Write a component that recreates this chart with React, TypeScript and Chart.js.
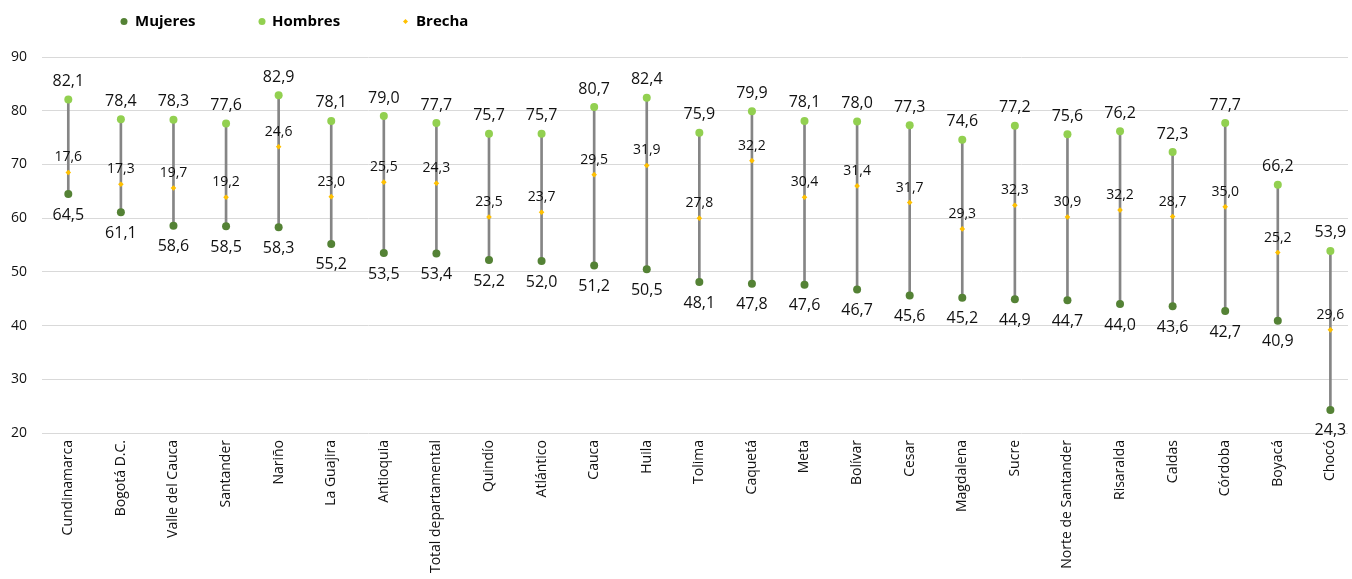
import React, { useEffect, useRef } from 'react';
import { Chart, registerables } from 'chart.js';

Chart.register(...registerables);

const categories = [
  'Cundinamarca', 'Bogotá D.C.', 'Valle del Cauca', 'Santander', 'Nariño', 'La Guajira', 'Antioquia',
  'Total departamental', 'Quindío', 'Atlántico', 'Cauca', 'Huila', 'Tolima', 'Caquetá', 'Meta', 'Bolívar',
  'Cesar', 'Magdalena', 'Sucre', 'Norte de Santander', 'Risaralda', 'Caldas', 'Córdoba', 'Boyacá', 'Chocó',
];

const mujeres = [64.5, 61.1, 58.6, 58.5, 58.3, 55.2, 53.5, 53.4, 52.2, 52.0, 51.2, 50.5, 48.1, 47.8, 47.6, 46.7, 45.6, 45.2, 44.9, 44.7, 44.0, 43.6, 42.7, 40.9, 24.3];
const hombres = [82.1, 78.4, 78.3, 77.6, 82.9, 78.1, 79.0, 77.7, 75.7, 75.7, 80.7, 82.4, 75.9, 79.9, 78.1, 78.0, 77.3, 74.6, 77.2, 75.6, 76.2, 72.3, 77.7, 66.2, 53.9];
const brecha = [17.6, 17.3, 19.7, 19.2, 24.6, 23.0, 25.5, 24.3, 23.5, 23.7, 29.5, 31.9, 27.8, 32.2, 30.4, 31.4, 31.7, 29.3, 32.3, 30.9, 32.2, 28.7, 35.0, 25.2, 29.6];
// vertical position at which each Brecha marker is plotted in the reference
const brechaPos = [68.5, 66.3, 65.6, 63.9, 73.3, 64.0, 66.7, 66.5, 60.2, 61.1, 68.1, 69.8, 60.0, 70.7, 63.9, 66.0, 62.9, 58.0, 62.4, 60.2, 61.5, 60.3, 62.1, 53.6, 39.2];

const yTicks = [20, 30, 40, 50, 60, 70, 80, 90];

const seriesNames = ['Mujeres', 'Hombres', 'Brecha'];
const colMujeres = '#548235';
const colHombres = '#92D050';
const colBrecha = '#FFC000';
const colRange = '#858585';
const FONT = '"Open Sans", "DejaVu Sans", sans-serif';

const fmt = (v: number) => v.toFixed(1).replace('.', ',');

export default function App() {
  const ref = useRef<HTMLCanvasElement>(null);

  useEffect(() => {
    if (!ref.current) return;

    const labelPlugin = {
      id: 'valueLabels',
      afterDatasetsDraw(chart: any) {
        const ctx = chart.ctx;
        ctx.save();
        ctx.textAlign = 'center';
        ctx.textBaseline = 'middle';
        ctx.fillStyle = '#111';
        const specs = [
          { ds: 1, values: mujeres, dy: 21, size: 16 },
          { ds: 2, values: hombres, dy: -18, size: 16 },
          { ds: 3, values: brecha, dy: -15, size: 14 },
        ];
        specs.forEach((s) => {
          const meta = chart.getDatasetMeta(s.ds);
          ctx.font = `${s.size}px ${FONT}`;
          meta.data.forEach((pt: any, i: number) => {
            ctx.fillText(fmt(s.values[i]), pt.x, pt.y + s.dy);
          });
        });
        ctx.restore();
      },
    };

    const legendPlugin = {
      id: 'customLegend',
      afterDraw(chart: any) {
        const ctx = chart.ctx;
        const y = 21.5;
        const items = [
          { name: seriesNames[0], color: colMujeres, dotX: 124, textX: 135, shape: 'circle' },
          { name: seriesNames[1], color: colHombres, dotX: 262, textX: 272, shape: 'circle' },
          { name: seriesNames[2], color: colBrecha, dotX: 405.5, textX: 416, shape: 'diamond' },
        ];
        ctx.save();
        ctx.font = `bold 15px ${FONT}`;
        ctx.textBaseline = 'middle';
        ctx.textAlign = 'left';
        items.forEach((it) => {
          ctx.fillStyle = it.color;
          ctx.beginPath();
          if (it.shape === 'circle') {
            ctx.arc(it.dotX, y, 3.5, 0, Math.PI * 2);
          } else {
            ctx.moveTo(it.dotX, y - 2.5);
            ctx.lineTo(it.dotX + 2.5, y);
            ctx.lineTo(it.dotX, y + 2.5);
            ctx.lineTo(it.dotX - 2.5, y);
            ctx.closePath();
          }
          ctx.fill();
          ctx.fillStyle = '#000';
          ctx.fillText(it.name, it.textX, y);
        });
        ctx.restore();
      },
    };

    const chart = new Chart(ref.current, {
      type: 'bar',
      data: {
        datasets: [
          {
            type: 'bar',
            label: 'Rango',
            data: categories.map((_, i) => ({ x: i, y: [mujeres[i], hombres[i]] })) as any,
            backgroundColor: colRange,
            borderWidth: 0,
            barThickness: 2,
            order: 5,
          },
          {
            type: 'scatter',
            label: seriesNames[0],
            data: categories.map((_, i) => ({ x: i, y: mujeres[i] })),
            backgroundColor: colMujeres,
            borderColor: colMujeres,
            pointRadius: 4,
            pointBorderWidth: 0,
            order: 3,
          },
          {
            type: 'scatter',
            label: seriesNames[1],
            data: categories.map((_, i) => ({ x: i, y: hombres[i] })),
            backgroundColor: colHombres,
            borderColor: colHombres,
            pointRadius: 4,
            pointBorderWidth: 0,
            order: 2,
          },
          {
            type: 'scatter',
            label: seriesNames[2],
            data: categories.map((_, i) => ({ x: i, y: brechaPos[i] })),
            backgroundColor: colBrecha,
            borderColor: colBrecha,
            pointStyle: 'rectRot',
            pointRadius: 2.8,
            pointBorderWidth: 0,
            order: 1,
          },
        ] as any,
      },
      options: {
        responsive: false,
        animation: false,
        events: [],
        layout: { padding: { top: 57, left: 10, right: 0, bottom: 0 } },
        plugins: {
          legend: { display: false },
          tooltip: { enabled: false },
        },
        scales: {
          x: {
            type: 'linear',
            offset: false,
            min: -0.5,
            max: 24.335,
            grid: { display: false, drawTicks: false, offset: false },
            border: { display: false },
            afterBuildTicks: (s: any) => {
              s.ticks = categories.map((_, i) => ({ value: i }));
            },
            afterFit: (s: any) => {
              s.height = 146;
              s.paddingLeft = 0;
              s.paddingRight = 0;
            },
            ticks: {
              autoSkip: false,
              minRotation: 90,
              maxRotation: 90,
              padding: 7,
              color: '#111',
              font: { family: FONT, size: 14 },
              callback: (v: any) => categories[v] ?? '',
            },
          },
          y: {
            min: yTicks[0],
            max: yTicks[yTicks.length - 1],
            afterBuildTicks: (s: any) => {
              s.ticks = yTicks.map((v) => ({ value: v }));
            },
            afterFit: (s: any) => {
              s.width = 32;
            },
            grid: { color: '#D9D9D9', lineWidth: 1, drawTicks: false },
            border: { display: false },
            ticks: {
              padding: 15,
              color: '#111',
              font: { family: FONT, size: 14 },
            },
          },
        },
      } as any,
      plugins: [labelPlugin, legendPlugin],
    });

    return () => chart.destroy();
  }, []);

  return (
    <div style={{ position: 'fixed', left: 0, top: 0, width: 1352, height: 579, background: '#fff' }}>
      <canvas ref={ref} width={1352} height={579} />
    </div>
  );
}
